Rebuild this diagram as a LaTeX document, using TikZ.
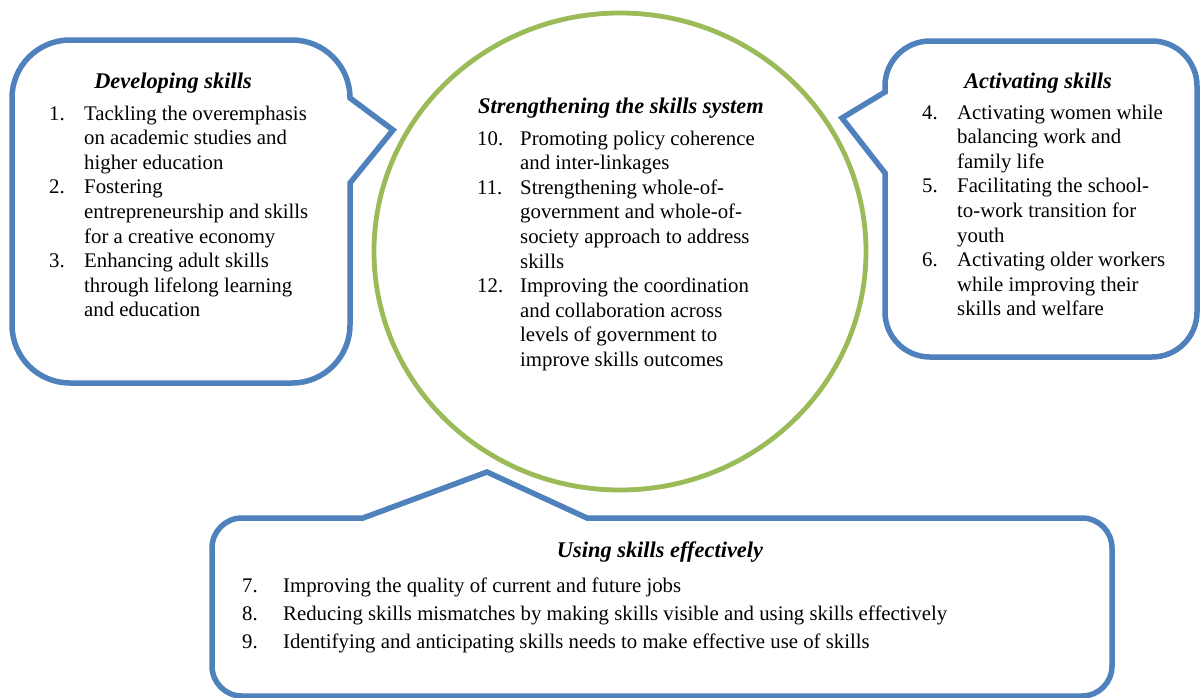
\documentclass[tikz,border=0pt]{standalone}
\usepackage{fontspec}
\setmainfont{Liberation Serif}
\usepackage{array}
\definecolor{calloutblue}{RGB}{79,129,189}
\definecolor{ringgreen}{RGB}{155,187,89}
\newcommand\bodyfont{\fontsize{20.8}{24.6}\selectfont}
\newcommand\titlefont{\fontsize{22.4}{26}\selectfont\bfseries\itshape}
\tikzset{
  txt/.style={anchor=base west, inner sep=0pt, font=\bodyfont, text=black},
  ttl/.style={anchor=base, inner sep=0pt, font=\titlefont, text=black},
  bubble/.style={draw=calloutblue, line width=5.5pt, fill=white, line join=miter},
  ring/.style={draw=ringgreen, line width=4.8pt}
}
\begin{document}
\begin{tikzpicture}[x=1pt, y=-1pt]
\useasboundingbox (0,0) rectangle (1203,697);
\fill[white] (0,0) rectangle (1203,697);

% Left callout: Developing skills
\draw[bubble] (70,40) -- (292,40) arc[start angle=-90, end angle=0, radius=58]
  -- (393,130) -- (350,183) -- (350,325) arc[start angle=0, end angle=90, radius=58]
  -- (70,383) arc[start angle=90, end angle=180, radius=58]
  -- (12,98) arc[start angle=180, end angle=270, radius=58] -- cycle;

% Right callout: Activating skills
\draw[bubble] (930,41) -- (1152,41) arc[start angle=-90, end angle=0, radius=45]
  -- (1197,312) arc[start angle=0, end angle=90, radius=45]
  -- (930,357) arc[start angle=90, end angle=180, radius=45]
  -- (885,173) -- (842,118) -- (885,92) -- (885,86) arc[start angle=180, end angle=270, radius=45] -- cycle;

% Bottom callout: Using skills effectively
\draw[bubble] (242,518) -- (363,518) -- (487,472) -- (587,518) -- (1082,518)
  arc[start angle=-90, end angle=0, radius=30]
  -- (1112,666) arc[start angle=0, end angle=90, radius=30]
  -- (242,696) arc[start angle=90, end angle=180, radius=30]
  -- (212,548) arc[start angle=180, end angle=270, radius=30] -- cycle;

% Central ring
\draw[ring] (620,251.5) ellipse [x radius=246, y radius=238.5];

% Texts
\node[ttl] (devtitle) at (173,88) {Developing skills};
\node[txt] (devlist) at (49,120) {\begin{tabular}[t]{@{}p{35pt}@{}l@{}}
1. & Tackling the overemphasis\\
   & on academic studies and\\
   & higher education\\
2. & Fostering\\
   & entrepreneurship and skills\\
   & for a creative economy\\
3. & Enhancing adult skills\\
   & through lifelong learning\\
   & and education
\end{tabular}};

\node[ttl] (acttitle) at (1038,88) {Activating skills};
\node[txt] (actlist) at (922,119) {\begin{tabular}[t]{@{}p{35pt}@{}l@{}}
4. & Activating women while\\
   & balancing work and\\
   & family life\\
5. & Facilitating the school-\\
   & to-work transition for\\
   & youth\\
6. & Activating older workers\\
   & while improving their\\
   & skills and welfare
\end{tabular}};

\node[ttl] (systitle) at (621,113) {Strengthening the skills system};
\node[txt] (syslist) at (477,145) {\begin{tabular}[t]{@{}p{43pt}@{}l@{}}
10. & Promoting policy coherence\\
    & and inter-linkages\\
11. & Strengthening whole-of-\\
    & government and whole-of-\\
    & society approach to address\\
    & skills\\
12. & Improving the coordination\\
    & and collaboration across\\
    & levels of government to\\
    & improve skills outcomes
\end{tabular}};

\node[ttl] (usetitle) at (660,557) {Using skills effectively};
\node[txt] (uselist) at (242,592) {\begin{tabular}[t]{@{}p{41pt}@{}l@{}}
7. & Improving the quality of current and future jobs\\[3.4pt]
8. & Reducing skills mismatches by making skills visible and using skills effectively\\[3.4pt]
9. & Identifying and anticipating skills needs to make effective use of skills
\end{tabular}};
\end{tikzpicture}
\end{document}
